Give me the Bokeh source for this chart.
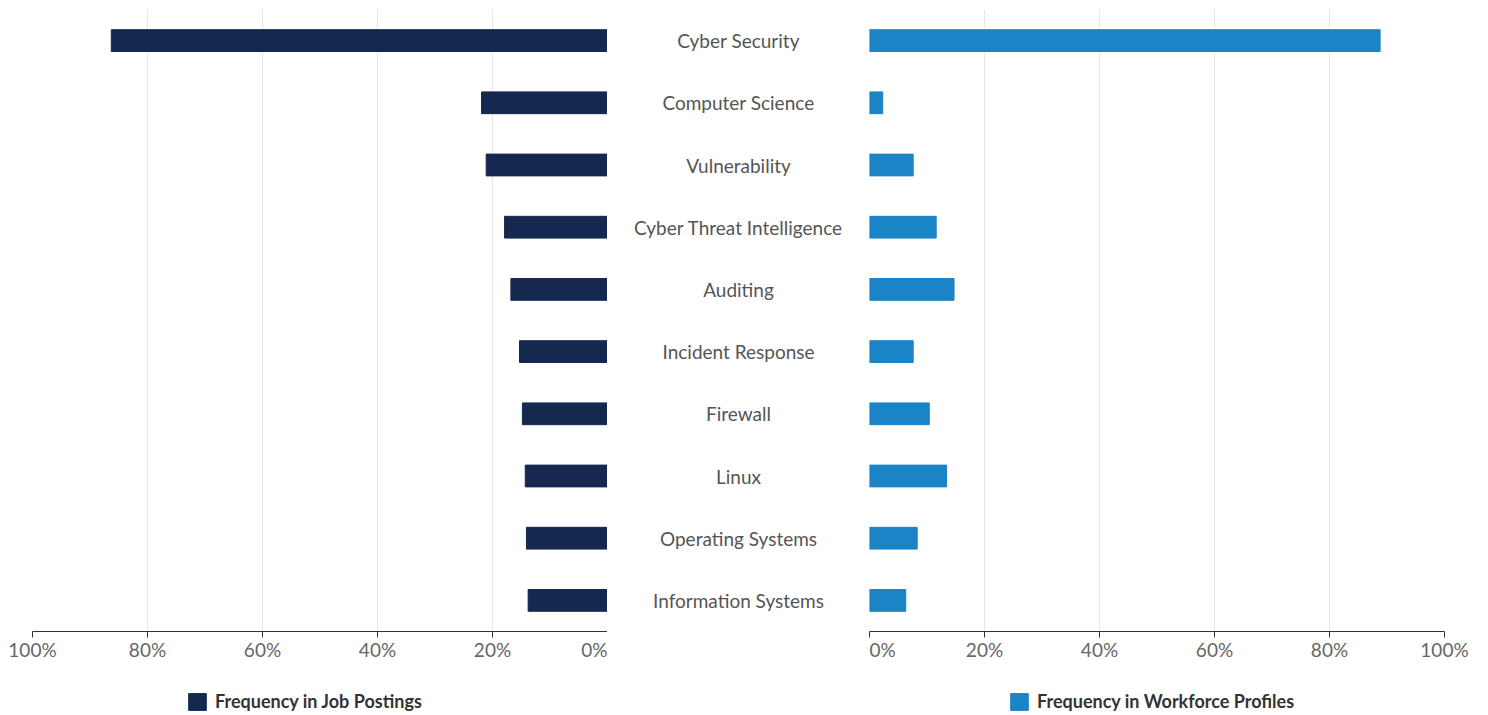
from bokeh.plotting import figure
from bokeh.models import (Range1d, FactorRange, FixedTicker, PrintfTickFormatter,
                          Legend, LegendItem, ColumnDataSource)
from bokeh.layouts import row, column
from bokeh.core.properties import value
from bokeh.embed import file_html
from bokeh.resources import INLINE

skills = ["Cyber Security", "Computer Science", "Vulnerability", "Cyber Threat Intelligence",
          "Auditing", "Incident Response", "Firewall", "Linux", "Operating Systems",
          "Information Systems"]
job_postings = [86.3, 21.9, 21.1, 17.9, 16.8, 15.3, 14.8, 14.3, 14.1, 13.8]
workforce_profiles = [88.8, 2.3, 7.6, 11.6, 14.7, 7.6, 10.4, 13.4, 8.3, 6.3]
tick_values = [0, 20, 40, 60, 80, 100]
series_names = ["Frequency in Job Postings", "Frequency in Workforce Profiles"]

NAVY = "#15284f"
BLUE = "#1b84c6"
FONT = "Lato"
TOP = 9
BOTTOM = 40

src = ColumnDataSource(dict(skill=skills, jobs=job_postings, wf=workforce_profiles,
                            xc=[0.5] * len(skills)))
yr = FactorRange(factors=list(reversed(skills)), range_padding=0)


def style(p):
    p.outline_line_color = None
    p.ygrid.grid_line_color = None
    p.xgrid.grid_line_color = "#e6e6e6"
    p.xaxis.ticker = FixedTicker(ticks=tick_values)
    p.xaxis.formatter = PrintfTickFormatter(format="%d%%")
    p.xaxis.axis_line_color = "#333333"
    p.xaxis.major_tick_line_color = "#333333"
    p.xaxis.minor_tick_line_color = None
    p.xaxis.major_tick_out = 6
    p.xaxis.major_tick_in = 0
    p.xaxis.major_label_text_font = FONT
    p.xaxis.major_label_text_font_size = "19px"
    p.xaxis.major_label_text_color = "#666666"
    p.xaxis.major_label_standoff = 0


left = figure(frame_width=575, frame_height=622, x_range=Range1d(100, 0), y_range=yr,
              output_backend="svg", toolbar_location=None, y_axis_location=None,
              min_border_left=32, min_border_right=0, min_border_top=TOP,
              min_border_bottom=BOTTOM)
left.hbar(y="skill", left=0, right="jobs", height=0.35, color=NAVY, source=src)
style(left)

center = figure(frame_width=262, frame_height=622, x_range=Range1d(0, 1), y_range=yr,
                output_backend="svg", toolbar_location=None, x_axis_location=None,
                y_axis_location=None, min_border_left=0, min_border_right=0,
                min_border_top=TOP, min_border_bottom=BOTTOM)
center.outline_line_color = None
center.grid.grid_line_color = None
center.text(x="xc", y="skill", text="skill", source=src, text_align="center",
            text_baseline="middle", text_font=value(FONT), text_font_size="19px",
            text_color="#555555")

right = figure(frame_width=575, frame_height=622, x_range=Range1d(0, 100), y_range=yr,
               output_backend="svg", toolbar_location=None, y_axis_location=None,
               min_border_left=0, min_border_right=44, min_border_top=TOP,
               min_border_bottom=BOTTOM)
right.hbar(y="skill", left=0, right="wf", height=0.35, color=BLUE, source=src)
style(right)

# legend strip below the charts (swatch renderers sit outside the visible range)
LEG_H = 715 - (TOP + 622 + BOTTOM)
leg = figure(width=1488, height=LEG_H, x_range=Range1d(0, 1488), y_range=Range1d(0, LEG_H),
             output_backend="svg", toolbar_location=None, x_axis_location=None,
             y_axis_location=None, min_border=0)
leg.outline_line_color = None
leg.grid.grid_line_color = None
dummy_l = leg.hbar(y=[-100], left=[0], right=[1], height=1, color=NAVY)
dummy_r = leg.hbar(y=[-100], left=[0], right=[1], height=1, color=BLUE)
for rend, name, xpos in [(dummy_l, series_names[0], 186), (dummy_r, series_names[1], 1008)]:
    lg = Legend(items=[LegendItem(label=name, renderers=[rend])], location=(xpos, 3),
                orientation="horizontal", border_line_color=None,
                background_fill_alpha=0, label_text_font=FONT,
                label_text_font_style="bold", label_text_font_size="18px",
                label_text_color="#333333", glyph_width=22, glyph_height=21,
                label_standoff=7, margin=0, padding=0, label_height=21)
    leg.add_layout(lg, "center")

layout = column(row(left, center, right, spacing=0), leg, spacing=0)
open("out.html", "w").write(file_html(layout, INLINE))
